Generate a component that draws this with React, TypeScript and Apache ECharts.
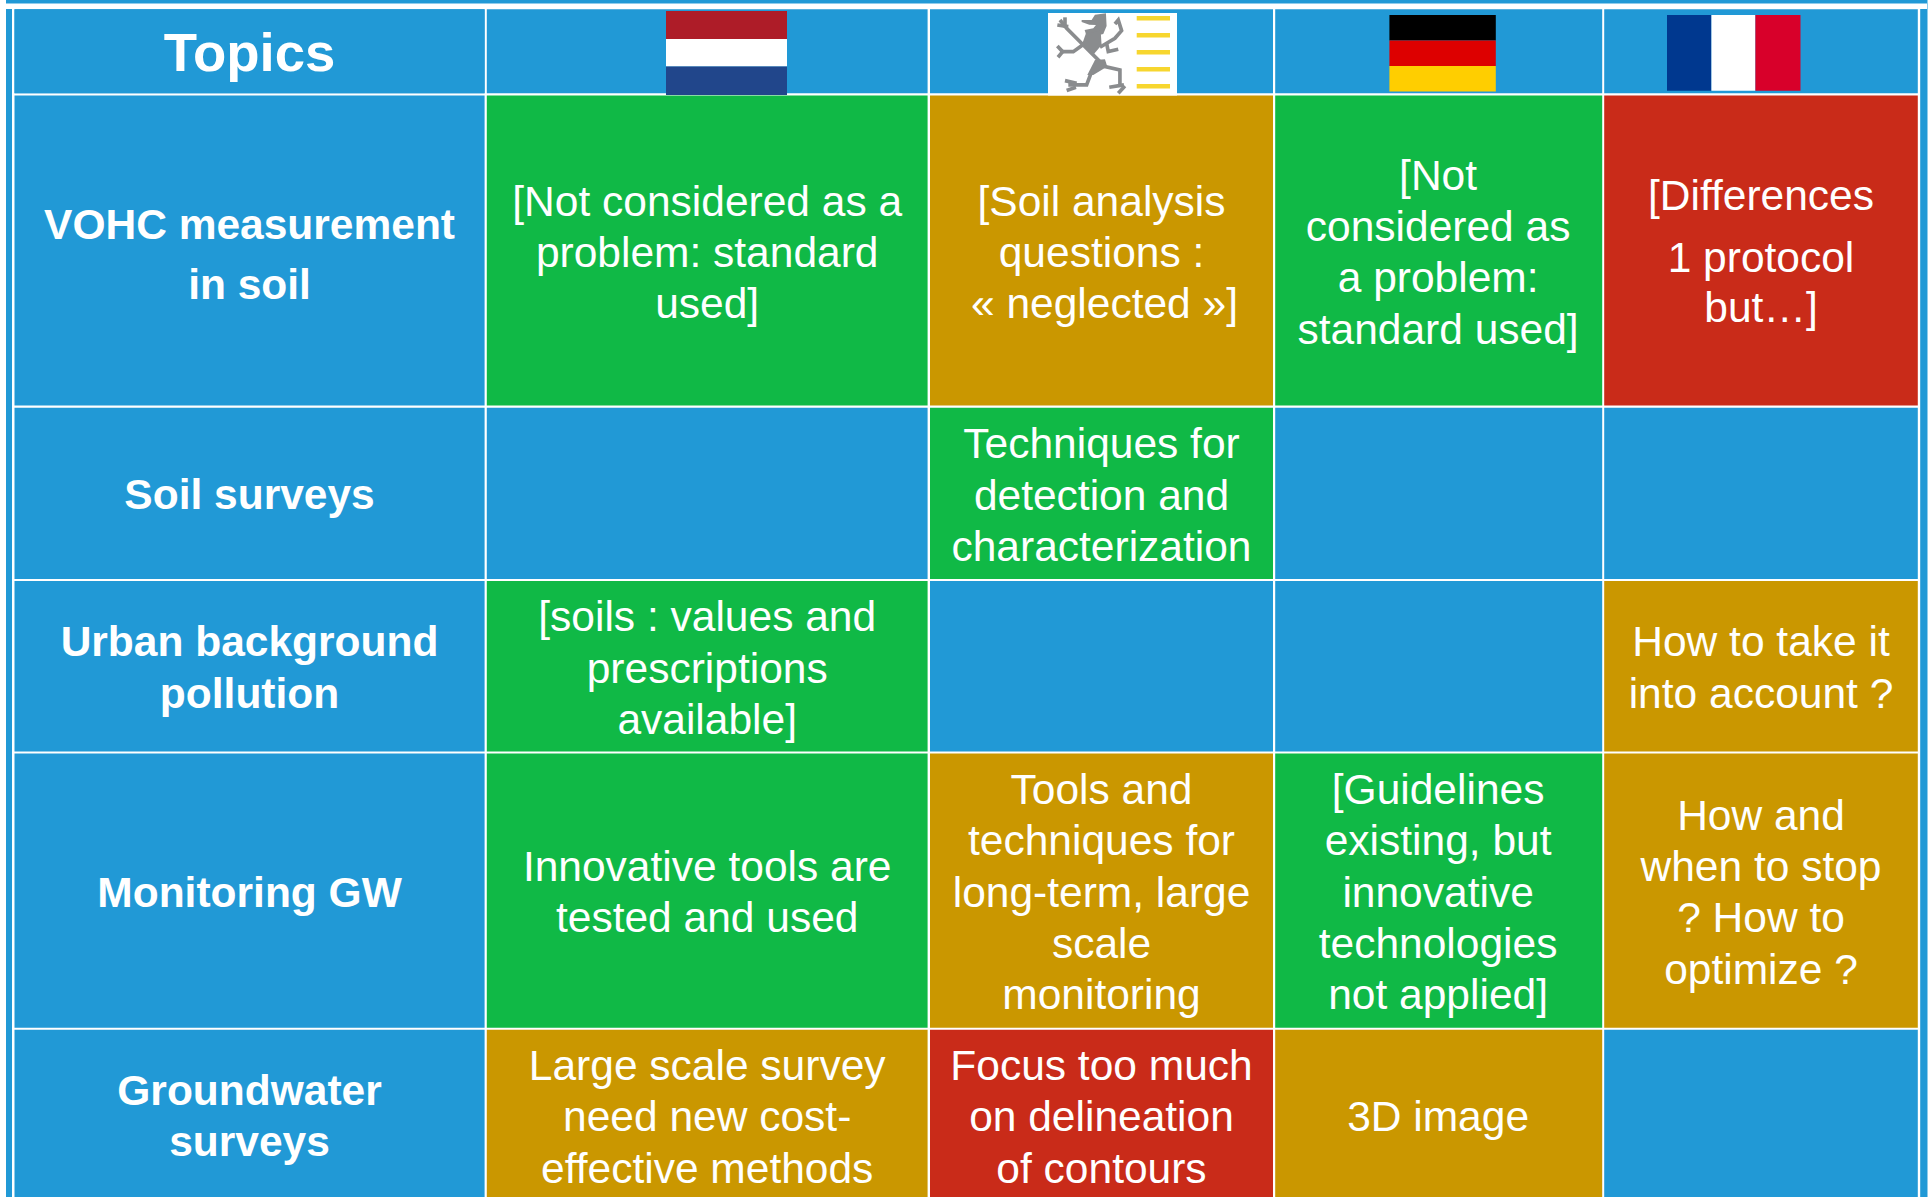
import React, { useEffect, useRef } from "react";
import * as echarts from "echarts";

// ---- content ----
const headerTitle = "Topics";
const topicLabels = [
  "VOHC measurement\nin soil",
  "Soil surveys",
  "Urban background\npollution",
  "Monitoring GW",
  "Groundwater\nsurveys",
];
const netherlandsTexts = [
  "[Not considered as a\nproblem: standard\nused]",
  "",
  "[soils : values and\nprescriptions\navailable]",
  "Innovative tools are\ntested and used",
  "Large scale survey\nneed new cost-\neffective methods",
];
const flandersTexts = [
  "[Soil analysis\nquestions :\n« neglected »]",
  "Techniques for\ndetection and\ncharacterization",
  "",
  "Tools and\ntechniques for\nlong-term, large\nscale\nmonitoring",
  "Focus too much\non delineation\nof contours",
];
const germanyTexts = [
  "[Not\nconsidered as\na problem:\nstandard used]",
  "",
  "",
  "[Guidelines\nexisting, but\ninnovative\ntechnologies\nnot applied]",
  "3D image",
];
const franceTexts = [
  "[Differences\n1 protocol\nbut…]",
  "",
  "How to take it\ninto account ?",
  "How and\nwhen to stop\n? How to\noptimize ?",
  "",
];
// g = answered, a = open question, r = problem, n = nothing
const netherlandsStatus = ["g", "n", "g", "g", "a"];
const flandersStatus = ["a", "g", "n", "a", "r"];
const germanyStatus = ["g", "n", "n", "g", "a"];
const franceStatus = ["r", "n", "a", "a", "n"];

// ---- layout & style (separate from content) ----
const W = 1930;
const H = 1197;
const BLUE = "#2199D6";
const statusColors: Record<string, string> = { g: "#10B946", a: "#CA9700", r: "#C92B19", n: BLUE };
const colStarts = [14.5, 486.8, 930, 1275.2, 1604.2];
const colEnds = [484.6, 927.6, 1273, 1602.2, 1917.8];
const rowStarts = [95.6, 407.7, 581, 753.6, 1029.8];
const rowEnds = [405.6, 579, 751.6, 1027.8, 1197];
const rowMids = [252.3, 495.2, 668.2, 892.2, 1116.8];
const LINE_PITCH = 51.3;
const FONT_SIZE = 42.5;
const FONT = "Liberation Sans, Arial, sans-serif";
// column:row blocks whose lines are not evenly spaced around the row's middle
const lineOffsets: Record<string, number[]> = {
  "0:0": [-27.5, 32.5],
  "0:1": [-1],
  "0:2": [-26.6, 25],
  "4:2": [-26.6, 25],
  "0:4": [-26.6, 25],
  "4:0": [-56.6, 5, 55.4],
};
const blockNudgeX: Record<string, number> = { "3:0": -0.6, "3:3": -0.6, "3:4": -0.6 };
const lineNudgeX: Record<string, number> = { "2:0:2": 3 };

const frameRects: [number, number, number, number, string][] = [
  [6, 1927.5, 0, 1197, BLUE],
  [6, 1927, 3.4, 9, "#FFFFFF"],
  [12, 1920.2, 9, 1197, "#FFFFFF"],
  [14.5, 484.6, 9.2, 93.2, BLUE],
  [486.8, 927.6, 9.2, 93.2, BLUE],
  [930, 1273, 9.2, 93.2, BLUE],
  [1275.2, 1602.2, 9.2, 93.2, BLUE],
  [1604.2, 1917.8, 9.2, 93.2, BLUE],
];
const flagRects: [number, number, number, number, string][] = [
  [666, 787, 11, 39, "#AE1C28"],
  [666, 787, 39, 66.6, "#FFFFFF"],
  [666, 787, 66.6, 95, "#21468B"],
  [1048, 1177, 13, 95.6, "#FFFFFF"],
  [1136.7, 1170, 16, 20.6, "#F7D62F"],
  [1136.7, 1170, 33, 37.6, "#F7D62F"],
  [1136.7, 1170, 50, 54.6, "#F7D62F"],
  [1136.7, 1170, 67, 71.6, "#F7D62F"],
  [1136.7, 1170, 84, 88.6, "#F7D62F"],
  [1389.4, 1495.8, 15, 40.6, "#000000"],
  [1389.4, 1495.8, 40.6, 66, "#DD0000"],
  [1389.4, 1495.8, 66, 91.6, "#FFCE00"],
  [1667, 1711.4, 15, 90.8, "#00388F"],
  [1711.4, 1755.4, 15, 90.8, "#FFFFFF"],
  [1755.4, 1800.5, 15, 90.8, "#D8002A"],
];
// lion emblem, drawn in a 3x space anchored at the emblem's corner
const lionStrokes: [number, number][][] = [
  [[30, 30], [50, 55], [115, 120], [165, 170], [210, 180], [210, 230]],
  [[45, 22], [45, 52]],
  [[22, 45], [55, 50]],
  [[30, 125], [70, 125], [105, 100], [115, 75]],
  [[22, 108], [38, 125], [24, 142]],
  [[165, 155], [125, 185], [110, 225], [55, 225]],
  [[45, 212], [80, 220]],
  [[50, 242], [78, 232]],
  [[178, 232], [222, 225]],
  [[205, 250], [225, 228]],
  [[150, 112], [195, 85], [215, 62], [205, 30], [195, 42]],
  [[170, 100], [175, 125], [205, 118]],
];
const lionShapes: [number, number][][] = [
  [[95, 30], [125, 30], [135, 14], [168, 10], [170, 48], [160, 72], [135, 78], [108, 72], [104, 60], [130, 55], [138, 45], [118, 44], [95, 36]],
  [[108, 70], [152, 62], [155, 105], [132, 132], [98, 98]],
  [[135, 150], [165, 148], [172, 170], [130, 195], [112, 195]],
];

const panelData = frameRects.map((r) => [r[0], r[1], r[2], r[3], r[4]]);
const stripeData = flagRects.map((r) => [r[0], r[1], r[2], r[3], r[4]]);

type Cell = { value: number[]; color: string; text: string; bold: boolean; key: string; mid: number };
const columns = [
  { texts: topicLabels, status: topicLabels.map(() => "n"), bold: true },
  { texts: netherlandsTexts, status: netherlandsStatus, bold: false },
  { texts: flandersTexts, status: flandersStatus, bold: false },
  { texts: germanyTexts, status: germanyStatus, bold: false },
  { texts: franceTexts, status: franceStatus, bold: false },
];
const cells: Cell[] = [];
columns.forEach((col, c) => {
  col.texts.forEach((text, r) => {
    cells.push({
      value: [colStarts[c], colEnds[c], rowStarts[r], rowEnds[r]],
      color: statusColors[col.status[r]],
      text,
      bold: col.bold,
      key: `${c}:${r}`,
      mid: rowMids[r],
    });
  });
});
cells.push({
  value: [colStarts[0], colEnds[0], 9.2, 93.2],
  color: BLUE,
  text: headerTitle,
  bold: true,
  key: "title",
  mid: 52,
});

function rectRender(_: any, api: any) {
  const a = api.coord([api.value(0), api.value(2)]);
  const b = api.coord([api.value(1), api.value(3)]);
  return {
    type: "rect",
    shape: { x: a[0], y: a[1], width: b[0] - a[0], height: b[1] - a[1] },
    style: { fill: api.value(4) },
  };
}

function cellRender(params: any, api: any) {
  const cell = cells[params.dataIndex];
  const a = api.coord([api.value(0), api.value(2)]);
  const b = api.coord([api.value(1), api.value(3)]);
  const cx = (a[0] + b[0]) / 2 + (blockNudgeX[cell.key] || 0);
  const midPx = api.coord([0, cell.mid])[1];
  const lines = cell.text ? cell.text.split("\n") : [];
  const offsets =
    lineOffsets[cell.key] ||
    lines.map((_: string, i: number) => (i - (lines.length - 1) / 2) * LINE_PITCH);
  const size = cell.key === "title" ? 54.5 : FONT_SIZE;
  return {
    type: "group",
    children: [
      {
        type: "rect",
        shape: { x: a[0], y: a[1], width: b[0] - a[0], height: b[1] - a[1] },
        style: { fill: cell.color },
      },
      ...lines.map((line: string, i: number) => ({
        type: "text",
        style: {
          text: line,
          x: cx + (lineNudgeX[`${cell.key}:${i}`] || 0),
          y: midPx + offsets[i],
          align: "center",
          verticalAlign: "middle",
          fill: "#FFFFFF",
          font: `${cell.bold ? "bold " : ""}${size}px ${FONT}`,
        },
      })),
    ],
  };
}

export default function App() {
  const ref = useRef<HTMLDivElement>(null);
  useEffect(() => {
    document.body.style.margin = "0";
    const chart = echarts.init(ref.current!, undefined, { renderer: "svg" });
    chart.setOption({
      animation: false,
      backgroundColor: "#FFFFFF",
      grid: { left: 0, right: 0, top: 0, bottom: 0 },
      xAxis: { type: "value", min: 0, max: W, show: false },
      yAxis: { type: "value", min: 0, max: H, inverse: true, show: false },
      tooltip: { show: false },
      graphic: [
        {
          type: "group",
          x: 1050,
          y: 10,
          scaleX: 1 / 3,
          scaleY: 1 / 3,
          z: 10,
          children: [
            ...lionStrokes.map((pts) => ({
              type: "polyline",
              z: 10,
              shape: { points: pts },
              style: { stroke: "#8A8C8E", lineWidth: 11, fill: "none" },
            })),
            ...lionShapes.map((pts) => ({
              type: "polygon",
              z: 10,
              shape: { points: pts },
              style: { fill: "#8A8C8E" },
            })),
          ],
        },
      ],
      series: [
        {
          type: "custom",
          z: 1,
          silent: true,
          clip: false,
          renderItem: rectRender,
          encode: { x: [0, 1], y: [2, 3] },
          data: panelData,
        },
        {
          type: "custom",
          z: 2,
          silent: true,
          clip: false,
          renderItem: cellRender,
          encode: { x: [0, 1], y: [2, 3] },
          data: cells.map((c) => ({ value: c.value })),
        },
        {
          type: "custom",
          z: 3,
          silent: true,
          clip: false,
          renderItem: rectRender,
          encode: { x: [0, 1], y: [2, 3] },
          data: stripeData,
        },
      ],
    });
    return () => chart.dispose();
  }, []);
  return (
    <div
      ref={ref}
      style={{ position: "absolute", left: 0, top: 0, width: W, height: H, overflow: "hidden" }}
    />
  );
}
